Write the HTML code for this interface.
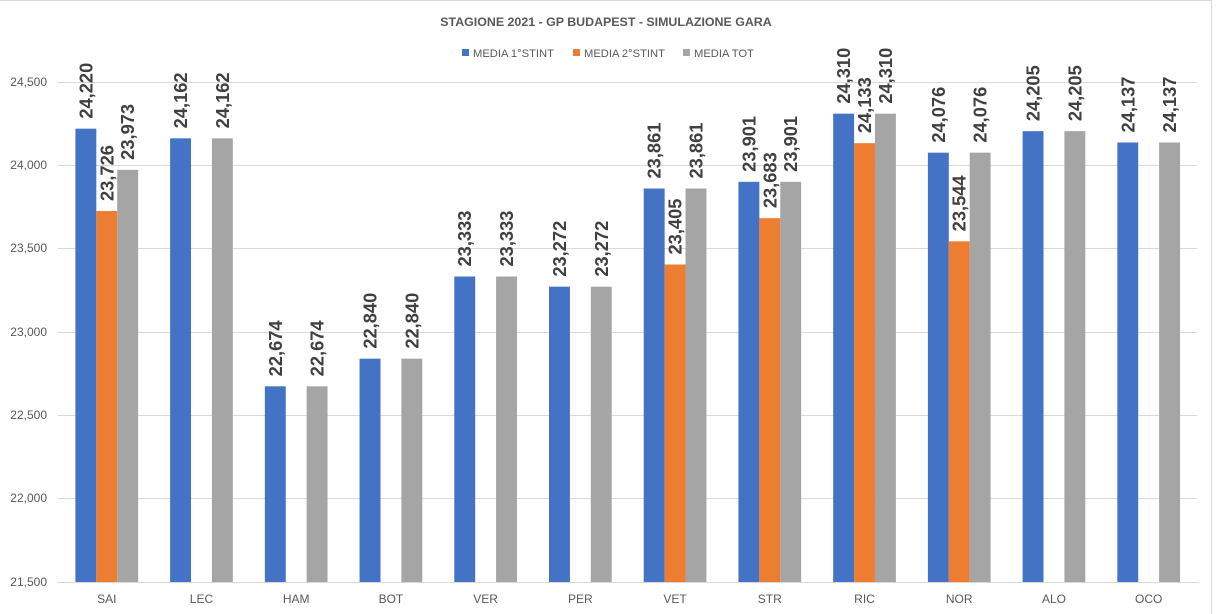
<!DOCTYPE html>
<html>
<head>
<meta charset="utf-8">
<style>
  html,body{margin:0;padding:0;background:#fff;}
  svg{display:block;}
  .yl{font-family:"Liberation Sans",sans-serif;font-size:12px;fill:#595959;text-anchor:end;}
  .xl{font-family:"Liberation Sans",sans-serif;font-size:12px;fill:#595959;text-anchor:middle;}
  .dl{font-family:"Liberation Sans",sans-serif;font-size:18.3px;font-weight:bold;fill:#404040;}
  .lg{font-family:"Liberation Sans",sans-serif;font-size:11.2px;fill:#595959;}
</style>
</head>
<body>
<svg width="1218" height="614" viewBox="0 0 1218 614" xmlns="http://www.w3.org/2000/svg">
  <rect x="0" y="0" width="1218" height="614" fill="#fff"/>
  <line x1="0" y1="0.5" x2="1212" y2="0.5" stroke="#d9d9d9" stroke-width="1"/>
  <line x1="1211.5" y1="0" x2="1211.5" y2="614" stroke="#d9d9d9" stroke-width="1"/>

  <text x="606" y="26" text-anchor="middle" font-family="Liberation Sans, sans-serif" font-size="12.4" font-weight="bold" fill="#595959">STAGIONE 2021 - GP BUDAPEST - SIMULAZIONE GARA</text>

  <rect x="462" y="49" width="7" height="7" fill="#4472c4"/>
  <text class="lg" x="473" y="57">MEDIA 1°STINT</text>
  <rect x="573" y="49" width="7" height="7" fill="#ed7d31"/>
  <text class="lg" x="584" y="57">MEDIA 2°STINT</text>
  <rect x="683" y="49" width="7" height="7" fill="#a5a5a5"/>
  <text class="lg" x="694" y="57">MEDIA TOT</text>

  <g stroke="#d9d9d9" stroke-width="1">
    <line x1="58" y1="82.5" x2="1197" y2="82.5"/>
    <line x1="58" y1="165.5" x2="1197" y2="165.5"/>
    <line x1="58" y1="248.5" x2="1197" y2="248.5"/>
    <line x1="58" y1="332.5" x2="1197" y2="332.5"/>
    <line x1="58" y1="415.5" x2="1197" y2="415.5"/>
    <line x1="58" y1="498.5" x2="1197" y2="498.5"/>
    <line x1="58" y1="582.5" x2="1199" y2="582.5"/>
  </g>

  <text class="yl" x="47" y="86">24,500</text>
  <text class="yl" x="47" y="169">24,000</text>
  <text class="yl" x="47" y="252">23,500</text>
  <text class="yl" x="47" y="336">23,000</text>
  <text class="yl" x="47" y="419">22,500</text>
  <text class="yl" x="47" y="502">22,000</text>
  <text class="yl" x="47" y="586">21,500</text>

  <!-- Bars -->
  <g fill="#4472c4">
    <rect x="75.41" y="128.67" width="20.9" height="453.33"/>
    <rect x="170.13" y="138.33" width="20.9" height="443.67"/>
    <rect x="264.85" y="386.33" width="20.9" height="195.67"/>
    <rect x="359.57" y="358.67" width="20.9" height="223.33"/>
    <rect x="454.29" y="276.5" width="20.9" height="305.5"/>
    <rect x="549.01" y="286.67" width="20.9" height="295.33"/>
    <rect x="643.73" y="188.5" width="20.9" height="393.5"/>
    <rect x="738.45" y="181.83" width="20.9" height="400.17"/>
    <rect x="833.17" y="113.67" width="20.9" height="468.33"/>
    <rect x="927.89" y="152.67" width="20.9" height="429.33"/>
    <rect x="1022.61" y="131.17" width="20.9" height="450.83"/>
    <rect x="1117.33" y="142.5" width="20.9" height="439.5"/>
  </g>
  <g fill="#ed7d31">
    <rect x="96.31" y="211" width="20.9" height="371"/>
    <rect x="664.63" y="264.5" width="20.9" height="317.5"/>
    <rect x="759.35" y="218.17" width="20.9" height="363.83"/>
    <rect x="854.07" y="143.17" width="20.9" height="438.83"/>
    <rect x="948.79" y="241.33" width="20.9" height="340.67"/>
  </g>
  <g fill="#a5a5a5">
    <rect x="117.21" y="169.83" width="20.9" height="412.17"/>
    <rect x="211.93" y="138.33" width="20.9" height="443.67"/>
    <rect x="306.65" y="386.33" width="20.9" height="195.67"/>
    <rect x="401.37" y="358.67" width="20.9" height="223.33"/>
    <rect x="496.09" y="276.5" width="20.9" height="305.5"/>
    <rect x="590.81" y="286.67" width="20.9" height="295.33"/>
    <rect x="685.53" y="188.5" width="20.9" height="393.5"/>
    <rect x="780.25" y="181.83" width="20.9" height="400.17"/>
    <rect x="874.97" y="113.67" width="20.9" height="468.33"/>
    <rect x="969.69" y="152.67" width="20.9" height="429.33"/>
    <rect x="1064.41" y="131.17" width="20.9" height="450.83"/>
    <rect x="1159.13" y="142.5" width="20.9" height="439.5"/>
  </g>

  <!-- Data labels -->
  <text class="dl" transform="translate(92.36,118.67) rotate(-90)">24,220</text>
  <text class="dl" transform="translate(113.26,201) rotate(-90)">23,726</text>
  <text class="dl" transform="translate(134.16,159.83) rotate(-90)">23,973</text>

  <text class="dl" transform="translate(187.08,128.33) rotate(-90)">24,162</text>
  <text class="dl" transform="translate(228.88,128.33) rotate(-90)">24,162</text>

  <text class="dl" transform="translate(281.8,376.33) rotate(-90)">22,674</text>
  <text class="dl" transform="translate(323.6,376.33) rotate(-90)">22,674</text>

  <text class="dl" transform="translate(376.52,348.67) rotate(-90)">22,840</text>
  <text class="dl" transform="translate(418.32,348.67) rotate(-90)">22,840</text>

  <text class="dl" transform="translate(471.24,266.5) rotate(-90)">23,333</text>
  <text class="dl" transform="translate(513.04,266.5) rotate(-90)">23,333</text>

  <text class="dl" transform="translate(565.96,276.67) rotate(-90)">23,272</text>
  <text class="dl" transform="translate(607.76,276.67) rotate(-90)">23,272</text>

  <text class="dl" transform="translate(660.68,178.5) rotate(-90)">23,861</text>
  <text class="dl" transform="translate(681.58,254.5) rotate(-90)">23,405</text>
  <text class="dl" transform="translate(702.48,178.5) rotate(-90)">23,861</text>

  <text class="dl" transform="translate(755.4,171.83) rotate(-90)">23,901</text>
  <text class="dl" transform="translate(776.3,208.17) rotate(-90)">23,683</text>
  <text class="dl" transform="translate(797.2,171.83) rotate(-90)">23,901</text>

  <text class="dl" transform="translate(850.12,103.67) rotate(-90)">24,310</text>
  <text class="dl" transform="translate(871.02,133.17) rotate(-90)">24,133</text>
  <text class="dl" transform="translate(891.92,103.67) rotate(-90)">24,310</text>

  <text class="dl" transform="translate(944.84,142.67) rotate(-90)">24,076</text>
  <text class="dl" transform="translate(965.74,231.33) rotate(-90)">23,544</text>
  <text class="dl" transform="translate(986.64,142.67) rotate(-90)">24,076</text>

  <text class="dl" transform="translate(1039.56,121.17) rotate(-90)">24,205</text>
  <text class="dl" transform="translate(1081.36,121.17) rotate(-90)">24,205</text>

  <text class="dl" transform="translate(1134.28,132.5) rotate(-90)">24,137</text>
  <text class="dl" transform="translate(1176.08,132.5) rotate(-90)">24,137</text>

  <!-- Category labels -->
  <text class="xl" x="106.76" y="603">SAI</text>
  <text class="xl" x="201.48" y="603">LEC</text>
  <text class="xl" x="296.2" y="603">HAM</text>
  <text class="xl" x="390.92" y="603">BOT</text>
  <text class="xl" x="485.64" y="603">VER</text>
  <text class="xl" x="580.36" y="603">PER</text>
  <text class="xl" x="675.08" y="603">VET</text>
  <text class="xl" x="769.8" y="603">STR</text>
  <text class="xl" x="864.52" y="603">RIC</text>
  <text class="xl" x="959.24" y="603">NOR</text>
  <text class="xl" x="1053.96" y="603">ALO</text>
  <text class="xl" x="1148.68" y="603">OCO</text>
</svg>
</body>
</html>
